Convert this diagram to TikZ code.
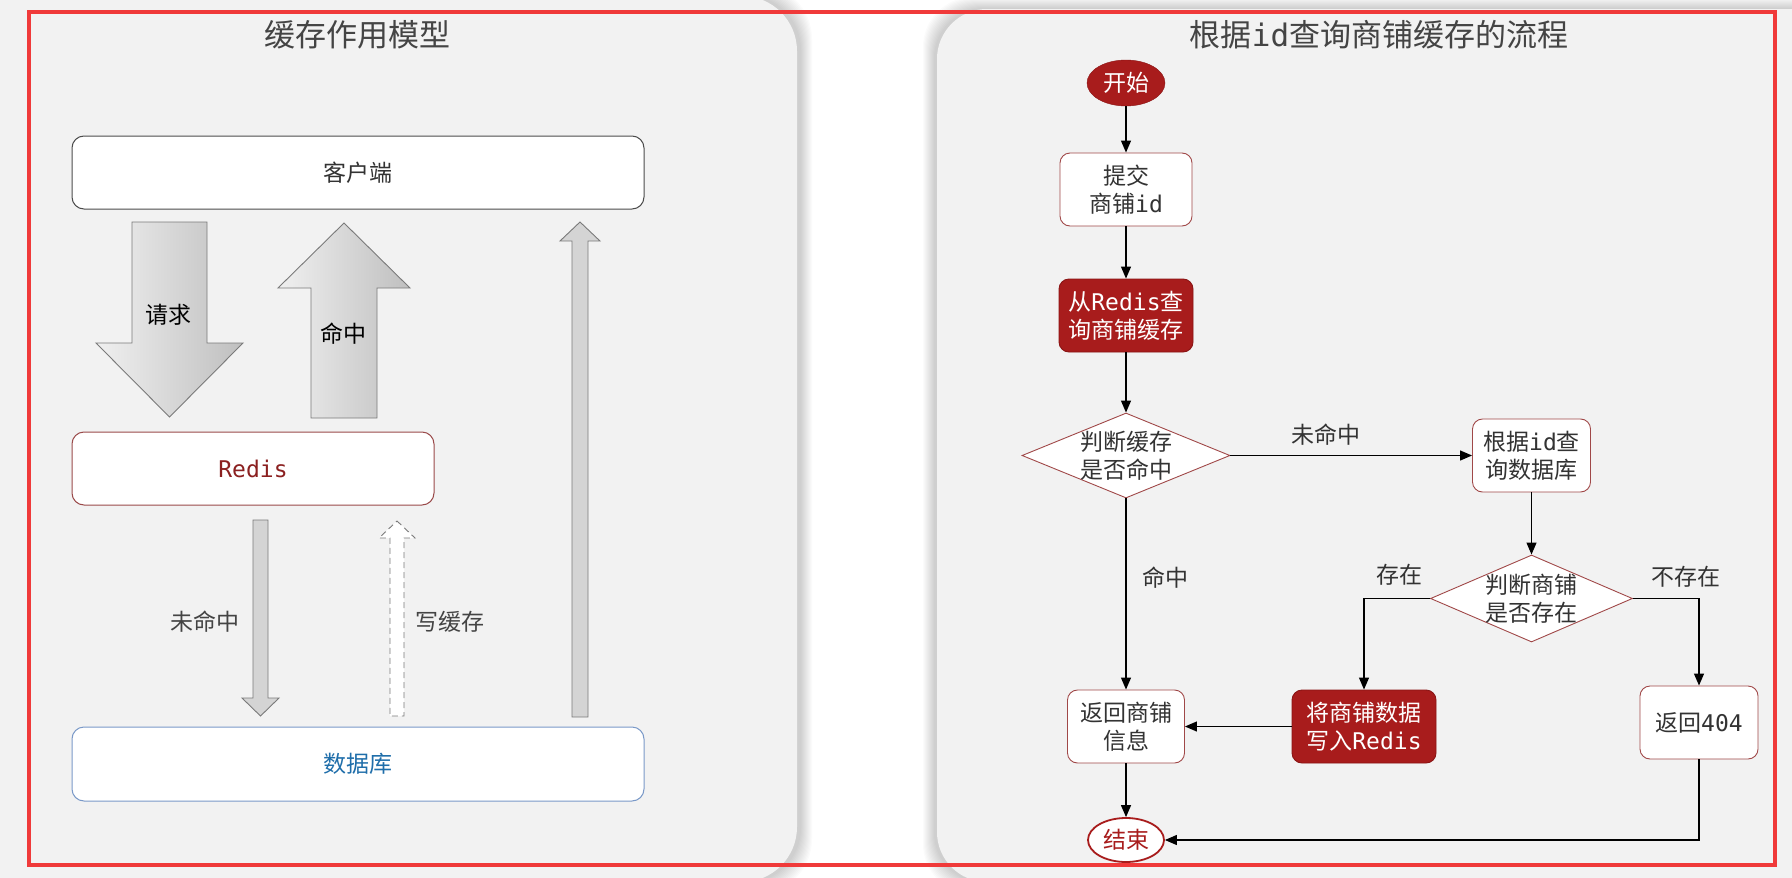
\documentclass[tikz,border=0pt]{standalone}
\usepackage{fontspec}
\setmainfont{Noto Sans CJK SC}
\newfontfamily\monof{DejaVu Sans Mono}
\usetikzlibrary{arrows.meta,shapes.geometric}
\definecolor{panelgray}{HTML}{F2F2F2}
\definecolor{dred}{HTML}{A81C1C}
\definecolor{dredline}{HTML}{8A1414}
\definecolor{boxred}{HTML}{A04848}
\definecolor{txt}{HTML}{333333}
\definecolor{titlecol}{HTML}{444444}
\definecolor{dbblue}{HTML}{1F6EAA}
\definecolor{dbline}{HTML}{7A99C8}
\definecolor{redisline}{HTML}{9A4A4A}
\definecolor{redistext}{HTML}{8B2020}
\definecolor{redframe}{HTML}{F03A3A}
\definecolor{arrowline}{HTML}{7A7A7A}
\definecolor{thinfill}{HTML}{D4D4D4}
\tikzset{
  bigfont/.style={font=\fontsize{23}{28}\selectfont},
  lbox/.style={rounded corners=12pt, fill=white, draw=#1, line width=1pt,
    minimum height=73pt, bigfont, inner sep=0pt},
  wbox/.style={rounded corners=10pt, fill=white, draw=boxred, line width=0.9pt,
    text=txt, align=center, bigfont, inner sep=0pt, minimum height=73pt},
  rbox/.style={wbox, fill=dred, draw=dredline, text=white},
  decbox/.style={diamond, shape aspect=2.45, fill=white, draw=boxred, line width=0.9pt,
    inner sep=0pt, minimum width=208pt, minimum height=85pt},
  flow/.style={-{Triangle[length=12pt,width=10pt]}, line width=1.2pt, black},
  lbl/.style={text=txt, bigfont, align=center},
  blockarrow/.style={draw=arrowline, line width=0.9pt, left color=gray!12, right color=gray!50},
  thinarrow/.style={draw=arrowline, line width=0.9pt, fill=thinfill},
  titlefont/.style={font=\fontsize{31}{36}\selectfont, text=titlecol}
}
\begin{document}
\begin{tikzpicture}[x=1pt,y=-1pt]
\useasboundingbox (0,0) rectangle (1792,878);
\fill[white] (0,0) rectangle (1792,878);
% panel shadows
\foreach \i in {1,...,12}{
  \fill[black,opacity=0.014,rounded corners=55pt] (-40-\i+3,-4-\i) rectangle (797+\i+3,882+\i);
  \fill[black,opacity=0.014,rounded corners=50pt] (937-\i-2,9-\i) rectangle (1860+\i,882+\i);
}
% panels
\fill[panelgray,rounded corners=55pt] (-40,-4) rectangle (797,882);
\fill[panelgray,rounded corners=50pt] (937,9) rectangle (1860,882);

% ---------- left panel ----------
\node[titlefont] (ltitle) at (357,35) {缓存作用模型};
\node[lbox=gray!60!black, minimum width=572pt, text=txt] (client) at (358,172.5) {客户端};
\node[lbox=redisline, minimum width=362pt, text=redistext] (redis) at (253,468.5) {\monof Redis};
\node[lbox=dbline, minimum width=572pt, minimum height=74pt, text=dbblue] (db) at (358,764) {数据库};

% big request arrow (down)
\path[blockarrow] (132,222) -- (207,222) -- (207,343) -- (243,343) -- (169.5,417) -- (96,343) -- (132,343) -- cycle;
\node[bigfont, text=black] (lreq) at (168,315) {请求};
% big hit arrow (up)
\path[blockarrow] (344,223) -- (410,288) -- (377,288) -- (377,418) -- (311,418) -- (311,288) -- (278,288) -- cycle;
\node[bigfont, text=black] (lhit) at (343,334) {命中};
% long thin up arrow (db -> client)
\path[thinarrow] (580,222) -- (600,241) -- (588,241) -- (588,717) -- (572,717) -- (572,241) -- (560,241) -- cycle;
% thin down arrow (miss)
\path[thinarrow] (253,520) -- (268,520) -- (268,698) -- (279,698) -- (260.5,716) -- (242,698) -- (253,698) -- cycle;
\node[bigfont, text=titlecol] (lmiss) at (205,622) {未命中};
% dashed up arrow (write cache)
\path[draw=arrowline, line width=0.9pt, fill=white, dash pattern=on 6pt off 4pt] (397,521) -- (415,538) -- (404,538) -- (404,716) -- (390,716) -- (390,538) -- (379,538) -- cycle;
\node[bigfont, text=titlecol] (lwrite) at (450,622) {写缓存};

% ---------- right panel ----------
\node[titlefont] (rtitle) at (1379,35) {根据{\monof id}查询商铺缓存的流程};
\node[ellipse, fill=dred, draw=dredline, text=white, minimum width=78pt, minimum height=46pt,
  inner sep=0pt, bigfont] (start) at (1126,83) {开始};
\node[wbox, minimum width=132pt] (submit) at (1126,189.5) {提交\\商铺{\monof id}};
\node[rbox, minimum width=134pt] (query) at (1126,315.5) {从{\monof Redis}查\\询商铺缓存};
\node[decbox] (d1) at (1126,455.5) {};
\node[lbl] (d1t) at (d1) {判断缓存\\是否命中};
\node[wbox, minimum width=118pt] (qdb) at (1531.5,455.5) {根据{\monof id}查\\询数据库};
\node[decbox, minimum width=202pt, minimum height=87pt] (d2) at (1531.5,598.5) {};
\node[lbl] (d2t) at (d2) {判断商铺\\是否存在};
\node[rbox, minimum width=144pt] (write) at (1364,726.5) {将商铺数据\\写入{\monof Redis}};
\node[wbox, minimum width=117pt] (ret) at (1126,726.5) {返回商铺\\信息};
\node[wbox, minimum width=118pt] (r404) at (1699,722.5) {返回{\monof 404}};
\node[ellipse, fill=white, draw=dred, line width=1.8pt, text=dred, minimum width=76pt,
  minimum height=44pt, inner sep=0pt, bigfont] (end) at (1126,840) {结束};

\draw[flow] (start) -- (submit);
\draw[flow] (submit) -- (query);
\draw[flow] (query) -- (d1);
\draw[flow] (d1.east) -- (qdb.west);
\draw[flow] (qdb) -- (d2);
\draw[flow] (d2.west) -| (write.north);
\draw[flow] (d2.east) -| (r404.north);
\draw[flow] (d1.south) -- (ret.north);
\draw[flow] (write.west) -- (ret.east);
\draw[flow] (ret) -- (end);
\draw[flow] (r404.south) |- (end.east);

\node[lbl] (lm1) at (1326,435) {未命中};
\node[lbl] (lm2) at (1165,578) {命中};
\node[lbl] (lm3) at (1399,575) {存在};
\node[lbl] (lm4) at (1686,577) {不存在};

% red frame
\draw[redframe, line width=3.2pt] (29,12) rectangle (1775,865);
\end{tikzpicture}
\end{document}
